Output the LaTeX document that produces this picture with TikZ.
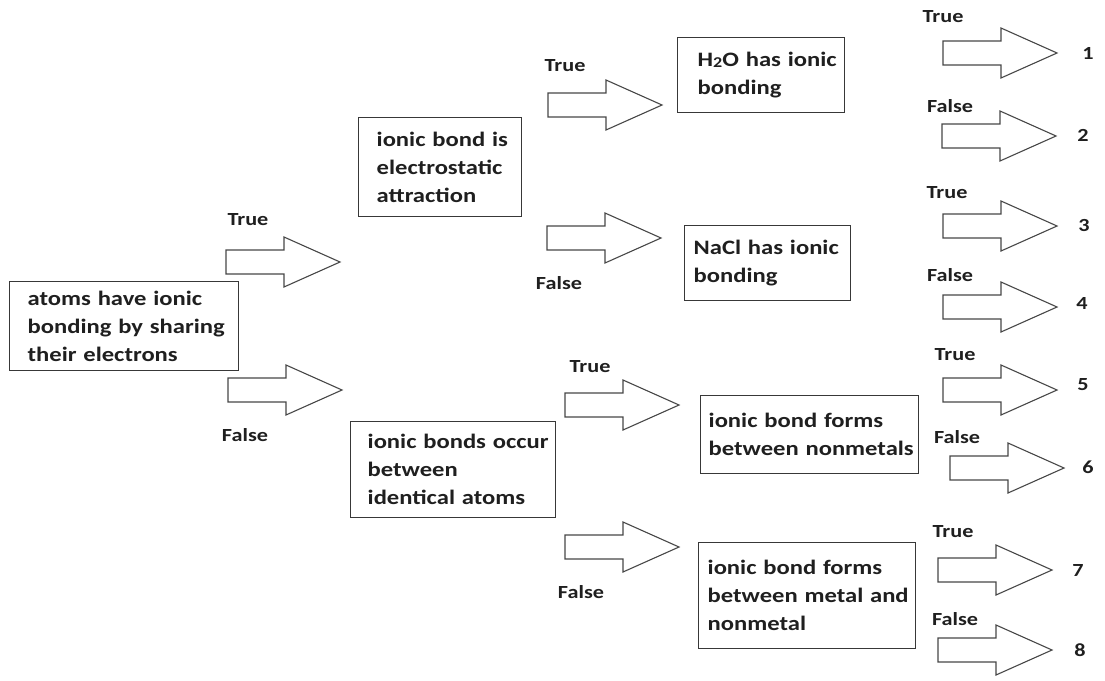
\documentclass[tikz,border=0pt]{standalone}
\usepackage{fontspec}
\setmainfont{Carlito}[FakeStretch=1.2]
\begin{document}
\begin{tikzpicture}[x=1pt,y=-1pt,
  box/.style={draw=black!78, line width=1.4pt, anchor=north west, align=left,
    inner ysep=0pt, text=black!88,
    font=\fontsize{20.5}{28}\selectfont\bfseries},
  lbl/.style={inner sep=0pt, text=black!88,
    font=\fontsize{18.5}{22}\selectfont\bfseries},
  pics/barrow/.style={code={
    \draw[draw=black!72, line width=1.1pt, fill=white, line join=miter]
      (0,-12) -- (58,-12) -- (58,-25) -- (114,0) -- (58,25) -- (58,12) -- (0,12) -- cycle;
    \coordinate (-tail) at (0,0);
    \coordinate (-tip) at (114,0);
  }}]
\useasboundingbox (0,0) rectangle (1105,680);

% decision boxes
\node[box, minimum width=229, minimum height=89, inner xsep=18, text width=193] (atoms) at (9,281)
  {\mbox{atoms have ionic}\\\mbox{bonding by sharing}\\\mbox{their electrons}};
\node[box, minimum width=163, minimum height=99, inner xsep=18, text width=127] (electro) at (358,117)
  {\mbox{ionic bond is}\\\mbox{electrostatic}\\\mbox{attraction}};
\node[box, minimum width=205, minimum height=96, inner xsep=17, text width=171] (ident) at (350,421)
  {\mbox{ionic bonds occur}\\\mbox{between}\\\mbox{identical atoms}};
\node[box, minimum width=167, minimum height=75, inner xsep=20, text width=127] (water) at (677,37)
  {\mbox{H\raisebox{-0.5pt}{\fontsize{15}{15}\selectfont 2}O has ionic}\\\mbox{bonding}};
\node[box, minimum width=166, minimum height=75, inner xsep=9, text width=148] (salt) at (684,225)
  {\mbox{NaCl has ionic}\\\mbox{bonding}};
\node[box, minimum width=218, minimum height=78, inner xsep=8, text width=202] (nonmet) at (700,395)
  {\mbox{ionic bond forms}\\\mbox{between nonmetals}};
\node[box, minimum width=217, minimum height=106, inner xsep=9, text width=199] (metal) at (698,542)
  {\mbox{ionic bond forms}\\\mbox{between metal and}\\\mbox{nonmetal}};

% block arrows
\pic (aT) at (226,262) {barrow};
\pic (aF) at (228,390) {barrow};
\pic (eT) at (548,105) {barrow};
\pic (eF) at (547,238) {barrow};
\pic (iT) at (565,405) {barrow};
\pic (iF) at (565,547) {barrow};
\pic (r1) at (943,53)  {barrow};
\pic (r2) at (942,136) {barrow};
\pic (r3) at (943,226) {barrow};
\pic (r4) at (943,307) {barrow};
\pic (r5) at (943,390) {barrow};
\pic (r6) at (950,468) {barrow};
\pic (r7) at (938,570) {barrow};
\pic (r8) at (938,650) {barrow};

% branch labels
\node[lbl] (laT) at (248,220) {True};
\node[lbl] (laF) at (245,435) {False};
\node[lbl] (leT) at (565,66)  {True};
\node[lbl] (leF) at (559,283) {False};
\node[lbl] (liT) at (590,367) {True};
\node[lbl] (liF) at (581,592) {False};
\node[lbl] (l1) at (943,17)  {True};
\node[lbl] (l2) at (950,106) {False};
\node[lbl] (l3) at (947,193) {True};
\node[lbl] (l4) at (950,275) {False};
\node[lbl] (l5) at (955,355) {True};
\node[lbl] (l6) at (957,437) {False};
\node[lbl] (l7) at (953,532) {True};
\node[lbl] (l8) at (955,619) {False};

% outcomes
\node[lbl] (o1) at (1088,53)  {1};
\node[lbl] (o2) at (1083,135) {2};
\node[lbl] (o3) at (1084,225) {3};
\node[lbl] (o4) at (1082,303) {4};
\node[lbl] (o5) at (1083,385) {5};
\node[lbl] (o6) at (1088,467) {6};
\node[lbl] (o7) at (1078,570) {7};
\node[lbl] (o8) at (1080,650) {8};
\end{tikzpicture}
\end{document}
